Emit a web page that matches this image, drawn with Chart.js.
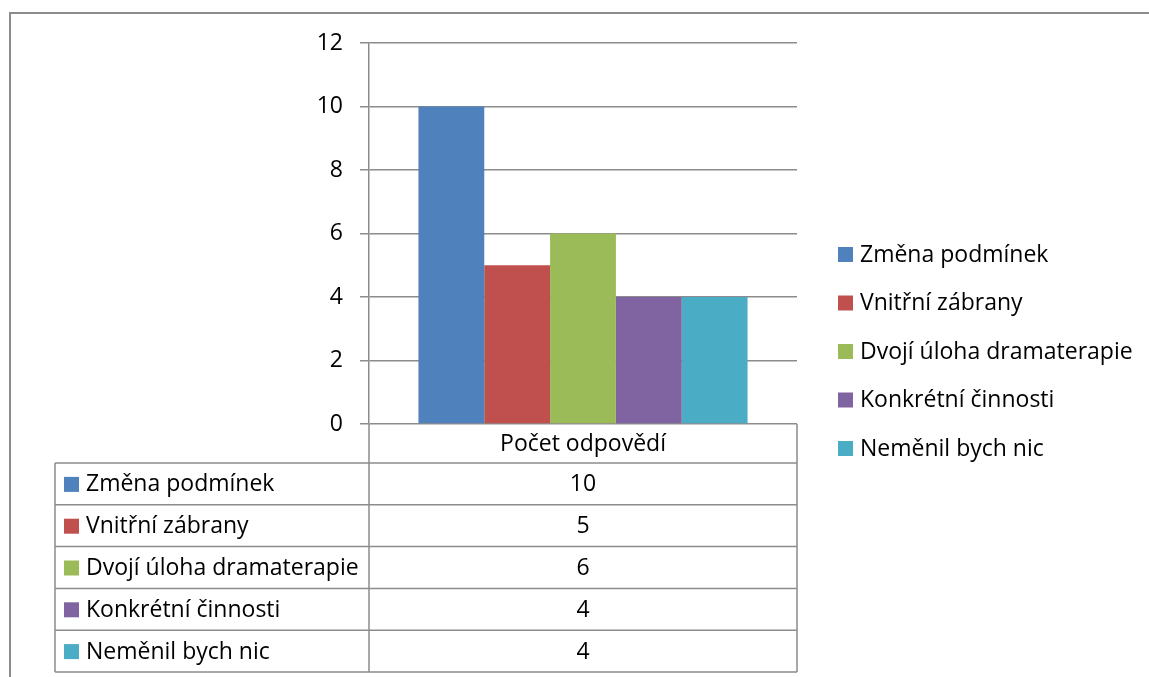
<!DOCTYPE html>
<html>
<head>
<meta charset="utf-8">
<script src="https://cdn.jsdelivr.net/npm/chart.js@4/dist/chart.umd.min.js"></script>
<style>
  html, body { margin: 0; padding: 0; background: #fff; }
  canvas { display: block; }
</style>
</head>
<body>
<canvas id="chart" width="1149" height="677"></canvas>
<script>
const categoryLabels = ['Počet odpovědí'];
const seriesNames = ['Změna podmínek', 'Vnitřní zábrany', 'Dvojí úloha dramaterapie', 'Konkrétní činnosti', 'Neměnil bych nic'];
const seriesValues = [10, 5, 6, 4, 4];
const seriesColors = ['#4F81BD', '#C0504D', '#9BBB59', '#8064A2', '#4BACC6'];
const yMin = 0;
const yMax = 12;
const yStep = 2;

const FAMILY = '"Open Sans", Lato, sans-serif';
const FONT = '23px ' + FAMILY;
const LINE = '#8c8c8c';

// data table under the plot + legend on the right, like the Excel original
const tablePlugin = {
     id: 'tableAndLegend',
     afterDraw(chart) {
          const ctx = chart.ctx;
          const area = chart.chartArea;
          const tableLeft = 55;
          const headH = 39;
          const rowH = 41.8;
          const rowsTop = area.bottom + headH;
          const rowsBottom = rowsTop + rowH * seriesNames.length;
          const colMid = (area.left + area.right) / 2;

          ctx.save();
          ctx.strokeStyle = LINE;
          ctx.lineWidth = 2;
          // outer chart border (cropped on right and bottom)
          ctx.beginPath();
          ctx.moveTo(10, 700);
          ctx.lineTo(10, 13);
          ctx.lineTo(1160, 13);
          ctx.stroke();

          ctx.lineWidth = 1.5;
          ctx.beginPath();
          // divider continues the y axis line down
          ctx.moveTo(area.left, area.bottom);
          ctx.lineTo(area.left, rowsBottom);
          // right edge of table
          ctx.moveTo(area.right, area.bottom);
          ctx.lineTo(area.right, rowsBottom);
          // left edge of rows
          ctx.moveTo(tableLeft, rowsTop);
          ctx.lineTo(tableLeft, rowsBottom);
          for (let i = 0; i <= seriesNames.length; i++) {
               const y = rowsTop + rowH * i;
               ctx.moveTo(tableLeft, y);
               ctx.lineTo(area.right, y);
          }
          ctx.stroke();

          ctx.font = FONT;
          ctx.fillStyle = '#000';
          ctx.textBaseline = 'middle';
          ctx.textAlign = 'center';
          ctx.fillText(categoryLabels[0], colMid, area.bottom + headH / 2 + 1);

          seriesNames.forEach((name, i) => {
               const cy = rowsTop + rowH * i + rowH / 2;
               ctx.fillStyle = seriesColors[i];
               ctx.fillRect(64, cy - 7, 15, 15);
               ctx.fillStyle = '#000';
               ctx.textAlign = 'left';
               ctx.fillText(name, 86, cy + 1);
               ctx.textAlign = 'center';
               ctx.fillText(String(seriesValues[i]), colMid, cy + 1);

               // legend
               const ly = 254 + i * 48.5;
               ctx.fillStyle = seriesColors[i];
               ctx.fillRect(838, ly - 7, 15, 15);
               ctx.fillStyle = '#000';
               ctx.textAlign = 'left';
               ctx.fillText(name, 860, ly + 1);
          });
          ctx.restore();
     }
};

const datasets = seriesNames.map((name, i) => ({
     label: name,
     data: [seriesValues[i]],
     backgroundColor: seriesColors[i],
     borderWidth: 0,
     barPercentage: 1,
     categoryPercentage: 0.769
}));

new Chart(document.getElementById('chart').getContext('2d'), {
     type: 'bar',
     data: { labels: categoryLabels, datasets: datasets },
     options: {
          responsive: false,
          animation: false,
          layout: { padding: { left: 309, right: 352, top: 43, bottom: 253 } },
          plugins: {
               legend: { display: false },
               tooltip: { enabled: false }
          },
          scales: {
               x: { display: false, offset: true },
               y: {
                    min: yMin,
                    max: yMax,
                    afterFit: (scale) => { scale.width = 60; },
                    ticks: {
                         stepSize: yStep,
                         padding: 17,
                         color: '#000',
                         font: { family: FAMILY, size: 23 }
                    },
                    grid: {
                         color: LINE,
                         lineWidth: 1.5,
                         tickLength: 9
                    },
                    border: { color: LINE, width: 1.5 }
               }
          }
     },
     plugins: [tablePlugin]
});
</script>
</body>
</html>
